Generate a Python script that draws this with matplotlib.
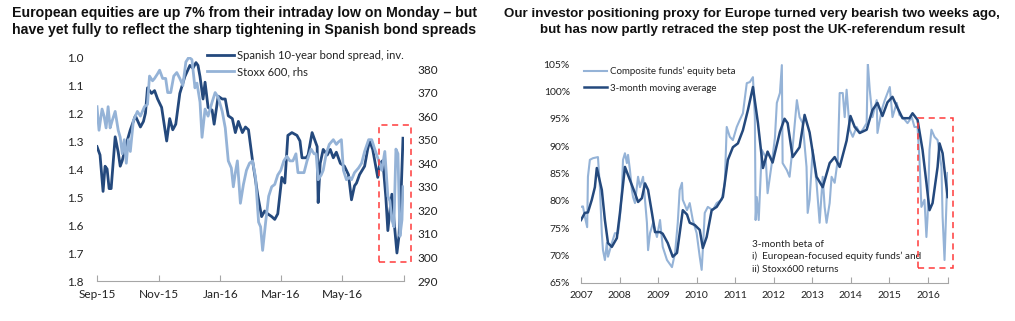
import numpy as np
import pandas as pd
import matplotlib
matplotlib.use("Agg")
import matplotlib.pyplot as plt
import matplotlib.dates as mdates
from matplotlib.patches import Rectangle

# ---- left chart data ----
spread_dates = ["2015-09-01", "2015-09-04", "2015-09-07", "2015-09-09", "2015-09-11", "2015-09-13", "2015-09-15",
                "2015-09-19", "2015-09-22", "2015-09-24", "2015-09-26", "2015-09-30", "2015-10-04", "2015-10-09",
                "2015-10-14", "2015-10-17", "2015-10-19", "2015-10-21", "2015-10-25", "2015-10-28", "2015-10-31",
                "2015-11-04", "2015-11-09", "2015-11-12", "2015-11-15", "2015-11-18", "2015-11-22", "2015-11-27",
                "2015-12-02", "2015-12-05", "2015-12-08", "2015-12-10", "2015-12-12", "2015-12-15", "2015-12-17",
                "2015-12-20", "2015-12-24", "2015-12-26", "2015-12-30", "2016-01-03", "2016-01-06", "2016-01-09",
                "2016-01-13", "2016-01-16", "2016-01-19", "2016-01-23", "2016-01-26", "2016-01-29", "2016-02-02",
                "2016-02-05", "2016-02-07", "2016-02-11", "2016-02-14", "2016-02-17", "2016-02-21", "2016-02-24",
                "2016-02-27", "2016-03-02", "2016-03-05", "2016-03-08", "2016-03-12", "2016-03-17", "2016-03-20",
                "2016-03-22", "2016-03-26", "2016-03-28", "2016-04-01", "2016-04-04", "2016-04-06", "2016-04-07",
                "2016-04-09", "2016-04-12", "2016-04-16", "2016-04-19", "2016-04-22", "2016-04-25", "2016-04-29",
                "2016-05-03", "2016-05-07", "2016-05-10", "2016-05-13", "2016-05-15", "2016-05-18", "2016-05-23",
                "2016-05-26", "2016-05-28", "2016-05-31", "2016-06-02", "2016-06-05", "2016-06-07", "2016-06-10",
                "2016-06-13", "2016-06-15", "2016-06-17", "2016-06-19", "2016-06-21", "2016-06-24", "2016-06-26",
                "2016-06-28", "2016-06-30"]
spread_values = [1.32, 1.35, 1.48, 1.39, 1.40, 1.47, 1.47, 1.285, 1.34, 1.39, 1.37, 1.31, 1.26, 1.21, 1.25, 1.23,
                 1.20, 1.11, 1.13, 1.12, 1.15, 1.18, 1.30, 1.22, 1.26, 1.24, 1.13, 1.07, 1.03, 1.04, 1.02, 1.03,
                 1.07, 1.15, 1.09, 1.18, 1.19, 1.24, 1.14, 1.15, 1.15, 1.21, 1.22, 1.27, 1.23, 1.27, 1.25, 1.26,
                 1.37, 1.44, 1.49, 1.57, 1.55, 1.56, 1.57, 1.58, 1.56, 1.43, 1.45, 1.28, 1.27, 1.28, 1.30, 1.36,
                 1.36, 1.35, 1.27, 1.30, 1.32, 1.52, 1.38, 1.33, 1.35, 1.33, 1.36, 1.34, 1.38, 1.39, 1.42, 1.51,
                 1.46, 1.45, 1.42, 1.39, 1.33, 1.30, 1.33, 1.37, 1.43, 1.38, 1.37, 1.50, 1.62, 1.55, 1.49, 1.58,
                 1.70, 1.64, 1.50, 1.29]

stoxx_dates = ["2015-09-01", "2015-09-03", "2015-09-06", "2015-09-08", "2015-09-10", "2015-09-12", "2015-09-14",
               "2015-09-16", "2015-09-19", "2015-09-22", "2015-09-24", "2015-09-26", "2015-09-28", "2015-09-30",
               "2015-10-02", "2015-10-04", "2015-10-07", "2015-10-11", "2015-10-14", "2015-10-18", "2015-10-21",
               "2015-10-23", "2015-10-26", "2015-10-28", "2015-10-31", "2015-11-02", "2015-11-05", "2015-11-08",
               "2015-11-10", "2015-11-13", "2015-11-16", "2015-11-19", "2015-11-22", "2015-11-25", "2015-11-28",
               "2015-12-01", "2015-12-04", "2015-12-07", "2015-12-09", "2015-12-12", "2015-12-14", "2015-12-17",
               "2015-12-20", "2015-12-24", "2015-12-27", "2015-12-30", "2016-01-03", "2016-01-06", "2016-01-09",
               "2016-01-12", "2016-01-14", "2016-01-16", "2016-01-18", "2016-01-21", "2016-01-24", "2016-01-27",
               "2016-01-30", "2016-02-02", "2016-02-05", "2016-02-08", "2016-02-10", "2016-02-12", "2016-02-15",
               "2016-02-18", "2016-02-21", "2016-02-24", "2016-02-27", "2016-03-01", "2016-03-04", "2016-03-07",
               "2016-03-10", "2016-03-13", "2016-03-16", "2016-03-18", "2016-03-21", "2016-03-24", "2016-03-27",
               "2016-03-31", "2016-04-03", "2016-04-05", "2016-04-07", "2016-04-10", "2016-04-12", "2016-04-15",
               "2016-04-18", "2016-04-22", "2016-04-25", "2016-04-27", "2016-04-30", "2016-05-02", "2016-05-05",
               "2016-05-08", "2016-05-10", "2016-05-13", "2016-05-17", "2016-05-20", "2016-05-23", "2016-05-27",
               "2016-05-30", "2016-06-02", "2016-06-06", "2016-06-09", "2016-06-12", "2016-06-15", "2016-06-17",
               "2016-06-19", "2016-06-21", "2016-06-23", "2016-06-25", "2016-06-27", "2016-06-29", "2016-06-30"]
stoxx_values = [364, 354, 363, 360, 355, 364, 355, 358, 362, 354, 351, 344, 350, 340, 350, 345, 358, 362, 360, 364,
                365, 377, 375, 376, 378, 379.5, 376, 376, 370, 370, 377, 378.5, 376, 373, 383, 385, 384, 372, 374,
                366, 351, 363, 360, 366, 370, 368, 362, 355, 341, 338, 330, 336, 341, 323, 331, 337, 340, 341, 334,
                315, 313, 303, 315, 326, 330, 331, 335, 337, 341, 343, 341, 341, 344, 336, 336, 336, 341, 346, 344,
                344, 333, 335, 337, 344, 348, 350, 348, 349, 350, 337, 333, 334, 333, 336, 338, 340, 345, 350, 350,
                346, 341, 337, 345, 326, 324, 316, 313, 346, 344, 309, 316, 330]

month_ticks = ["2015-09-01", "2015-11-01", "2016-01-01", "2016-03-01", "2016-05-01", "2016-07-01"]
month_labels = ["Sep-15", "Nov-15", "Jan-16", "Mar-16", "May-16", ""]

# ---- right chart data ----
beta_years = [2007.00, 2007.05, 2007.10, 2007.16, 2007.18, 2007.23, 2007.31, 2007.44, 2007.49, 2007.54,
              2007.57, 2007.62, 2007.67, 2007.70, 2007.80, 2007.88, 2007.96, 2008.01, 2008.06, 2008.09,
              2008.14, 2008.19, 2008.22, 2008.27, 2008.32, 2008.35, 2008.40, 2008.48, 2008.53, 2008.61,
              2008.66, 2008.71, 2008.74, 2008.79, 2008.87, 2008.97, 2009.05, 2009.12, 2009.23, 2009.36,
              2009.44, 2009.51, 2009.56, 2009.62, 2009.64, 2009.75, 2009.82, 2009.90, 2010.00, 2010.08,
              2010.13, 2010.16, 2010.21, 2010.29, 2010.42, 2010.52, 2010.65, 2010.73, 2010.78, 2010.86,
              2010.94, 2011.04, 2011.12, 2011.20, 2011.30, 2011.38, 2011.46, 2011.51, 2011.53, 2011.56,
              2011.61, 2011.69, 2011.79, 2011.84, 2011.95, 2012.03, 2012.08, 2012.16, 2012.21, 2012.23,
              2012.34, 2012.41, 2012.49, 2012.60, 2012.67, 2012.75, 2012.85, 2012.88, 2012.93, 2013.01,
              2013.11, 2013.19, 2013.27, 2013.32, 2013.37, 2013.45, 2013.50, 2013.58, 2013.66, 2013.71,
              2013.79, 2013.84, 2013.89, 2013.97, 2014.05, 2014.15, 2014.23, 2014.31, 2014.41, 2014.44,
              2014.49, 2014.56, 2014.67, 2014.69, 2014.80, 2014.88, 2014.95, 2015.01, 2015.08, 2015.19,
              2015.26, 2015.34, 2015.47, 2015.58, 2015.65, 2015.73, 2015.78, 2015.83, 2015.91, 2015.96,
              2015.99, 2016.04, 2016.09, 2016.17, 2016.25, 2016.35, 2016.38, 2016.43, 2016.48, 2016.51]
beta_values = [78.9, 79.0, 77.1, 75.2, 84.4, 87.5, 87.8, 88.0, 82.5, 74.1,
               71.0, 69.2, 72.3, 69.8, 72.3, 74.1, 74.1, 77.1, 82.0, 87.5,
               88.7, 86.9, 88.4, 85.6, 82.0, 80.7, 79.6, 84.4, 82.5, 84.4,
               80.2, 76.0, 71.0, 74.1, 76.0, 73.4, 76.5, 71.6, 69.2, 67.9,
               70.5, 76.0, 82.0, 83.3, 80.2, 78.3, 79.6, 76.5, 74.1, 69.8,
               67.4, 71.0, 77.8, 78.9, 78.3, 79.6, 80.2, 83.3, 93.5, 91.7,
               91.1, 93.5, 94.8, 96.0, 101.5, 101.7, 102.6, 95.3, 76.5, 80.7,
               76.5, 89.3, 88.0, 81.4, 86.9, 91.5, 97.9, 99.7, 104.8, 86.9,
               85.6, 84.4, 89.8, 98.4, 95.3, 94.2, 86.2, 77.8, 80.2, 89.3,
               83.3, 76.0, 84.4, 78.9, 76.0, 79.6, 84.4, 83.3, 87.5, 99.7,
               99.7, 95.3, 100.3, 93.0, 91.7, 93.5, 92.4, 93.0, 94.2, 105.2,
               100.3, 95.3, 98.4, 92.4, 96.6, 98.4, 99.7, 100.8, 95.3, 97.9,
               95.7, 95.3, 94.2, 95.3, 93.5, 93.5, 87.5, 78.9, 80.2, 73.4,
               77.1, 89.3, 93.0, 91.7, 91.1, 86.2, 77.1, 69.2, 79.6, 85.1]

ma_years = [2007.00, 2007.10, 2007.18, 2007.28, 2007.36, 2007.41, 2007.54, 2007.62, 2007.70, 2007.80,
            2007.93, 2008.01, 2008.14, 2008.27, 2008.40, 2008.48, 2008.58, 2008.66, 2008.74, 2008.84,
            2008.92, 2009.05, 2009.12, 2009.25, 2009.38, 2009.49, 2009.56, 2009.64, 2009.75, 2009.82,
            2009.95, 2010.08, 2010.16, 2010.26, 2010.39, 2010.52, 2010.68, 2010.81, 2010.94, 2011.07,
            2011.20, 2011.33, 2011.46, 2011.59, 2011.72, 2011.84, 2011.97, 2012.16, 2012.28, 2012.36,
            2012.49, 2012.67, 2012.80, 2012.93, 2013.11, 2013.27, 2013.45, 2013.58, 2013.71, 2013.89,
            2013.99, 2014.10, 2014.23, 2014.41, 2014.56, 2014.69, 2014.82, 2014.95, 2015.08, 2015.21,
            2015.34, 2015.52, 2015.60, 2015.73, 2015.86, 2015.96, 2016.04, 2016.12, 2016.25, 2016.30,
            2016.38, 2016.51]
ma_values = [76.5, 77.8, 77.9, 80.2, 82.5, 86.0, 82.0, 76.5, 72.3, 71.6,
             73.2, 77.8, 86.2, 83.8, 81.4, 79.8, 80.5, 83.2, 82.0, 77.8,
             74.3, 74.3, 74.0, 72.3, 69.8, 70.5, 74.1, 78.3, 77.5, 76.0,
             75.6, 74.7, 71.4, 73.4, 78.3, 78.9, 80.7, 87.5, 89.8, 90.5,
             92.9, 96.6, 100.8, 94.2, 86.0, 89.0, 87.0, 92.6, 95.0, 94.2,
             88.0, 89.8, 95.7, 92.5, 84.4, 82.5, 86.9, 88.0, 86.2, 91.0,
             95.5, 93.5, 92.4, 93.0, 96.6, 97.9, 95.5, 98.0, 99.0, 97.0,
             95.1, 95.1, 96.0, 94.8, 89.3, 83.3, 78.3, 79.6, 86.2, 90.5,
             88.7, 80.7]

year_ticks = list(range(2007, 2017))

DARK = "#24497D"
LIGHT = "#95B3D7"
RED = "#FF3B3B"
GRID = "#A6A6A6"
TXT = "#222222"

plt.rcParams["font.family"] = ["Lato", "DejaVu Sans"]

fig = plt.figure(figsize=(10.15, 3.21), dpi=100)

# titles
title_font = dict(family="Liberation Sans", fontweight="bold", color="#111111",
                  ha="center", va="top")
fig.text(244 / 1015, 1 - 6 / 321,
         "European equities are up 7% from their intraday low on Monday – but\n"
         "have yet fully to reflect the sharp tightening in Spanish bond spreads",
         fontsize=10.2, linespacing=1.3, **title_font)
fig.text(752 / 1015, 1 - 8 / 321,
         "Our investor positioning proxy for Europe turned very bearish two weeks ago,\n"
         "but has now partly retraced the step post the UK-referendum result",
         fontsize=9.6, linespacing=1.4, **title_font)

# ---------------- left chart ----------------
ax1 = fig.add_axes([97 / 1015, 1 - 281 / 321, 307 / 1015, 224 / 321])
ax2 = ax1.twinx()
l1, = ax1.plot(pd.to_datetime(spread_dates), spread_values, color=DARK, lw=2.0,
               label="Spanish 10-year bond spread, inv.")
l2, = ax2.plot(pd.to_datetime(stoxx_dates), stoxx_values, color=LIGHT, lw=2.0,
               label="Stoxx 600, rhs")

ax1.set_xlim(pd.Timestamp("2015-09-01"), pd.Timestamp("2016-07-01"))
ax1.set_ylim(1.8, 1.0)
ax1.set_yticks(np.arange(1.0, 1.81, 0.1))
ax1.set_yticklabels([f"{v:.1f}" for v in np.arange(1.0, 1.81, 0.1)])
ax2.set_ylim(290, 385.1)
ax2.set_yticks(range(290, 381, 10))
ax1.set_xticks(pd.to_datetime(month_ticks))
ax1.set_xticklabels(month_labels)

for ax in (ax1, ax2):
    for s in ("top", "left", "right"):
        ax.spines[s].set_visible(False)
ax2.spines["bottom"].set_visible(False)
ax1.spines["bottom"].set_color(GRID)
ax1.tick_params(axis="y", length=0, pad=10, labelsize=8.5, labelcolor=TXT)
ax2.tick_params(axis="y", length=0, pad=10, labelsize=8.5, labelcolor=TXT)
ax1.tick_params(axis="x", direction="in", length=4, color=GRID, pad=6, labelsize=8.5, labelcolor=TXT)

ax2.add_patch(Rectangle((mdates.date2num(pd.Timestamp("2016-06-06")), 298),
                        mdates.date2num(pd.Timestamp("2016-07-08")) - mdates.date2num(pd.Timestamp("2016-06-06")),
                        58.2, fill=False, ec=RED, lw=1.1, ls=(0, (4, 3)), clip_on=False, zorder=5))

fig.legend(handles=[l1, l2], loc="upper left", bbox_to_anchor=(207 / 1015, 1 - 50 / 321),
           frameon=False, fontsize=8.1, handlelength=2.4, handletextpad=0.25, labelspacing=0.45,
           borderaxespad=0, borderpad=0, labelcolor=TXT)

# ---------------- right chart ----------------
ax3 = fig.add_axes([581 / 1015, 1 - 283 / 321, 367 / 1015, 219 / 321])
b1, = ax3.plot(beta_years, beta_values, color=LIGHT, lw=1.5, label="Composite funds’ equity beta")
b2, = ax3.plot(ma_years, ma_values, color=DARK, lw=1.8, label="3-month moving average")
ax3.set_xlim(2007, 2016.52)
ax3.set_ylim(65, 105)
ax3.set_yticks(range(65, 106, 5))
ax3.set_yticklabels([f"{v}%" for v in range(65, 106, 5)])
ax3.set_xticks(year_ticks + [2016.52])
ax3.set_xticklabels([str(y) for y in year_ticks] + [""])
for s in ("top", "left", "right"):
    ax3.spines[s].set_visible(False)
ax3.spines["bottom"].set_color(GRID)
ax3.tick_params(axis="y", length=0, pad=8, labelsize=7.5, labelcolor=TXT)
ax3.tick_params(axis="x", direction="in", length=4, color=GRID, pad=6, labelsize=7.5, labelcolor=TXT)

ax3.add_patch(Rectangle((2015.73, 67.7), 0.91, 27.4, fill=False, ec=RED, lw=1.1,
                        ls=(0, (4, 3)), clip_on=False, zorder=5))

ax3.legend(handles=[b1, b2], loc="upper left", bbox_to_anchor=(584 / 1015, 1 - 67 / 321),
           bbox_transform=fig.transFigure, frameon=False, fontsize=7.0, handlelength=2.4,
           handletextpad=0.25, labelspacing=0.75, borderaxespad=0, borderpad=0, labelcolor=TXT)

ax3.text(2011.43, 72.9, "3-month beta of\ni)  European-focused equity funds’ and\nii) Stoxx600 returns",
         fontsize=7.2, color=TXT, va="top", ha="left", linespacing=1.4)

fig.savefig("out.png", dpi=100)
